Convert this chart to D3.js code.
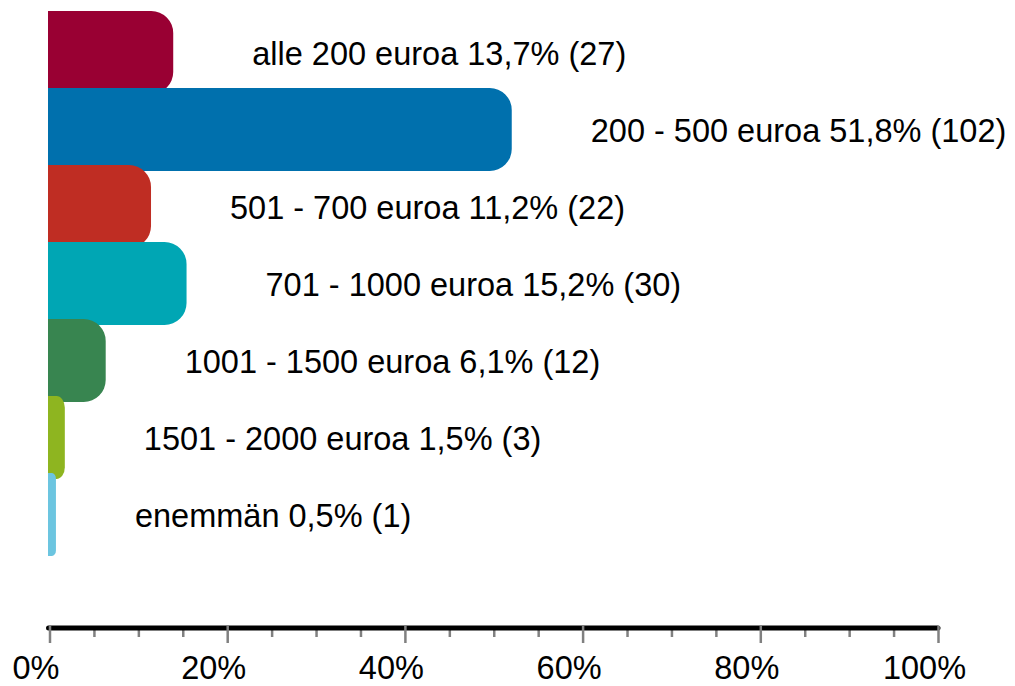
<!DOCTYPE html>
<html lang="fi">
<head>
<meta charset="utf-8" />
<title>Euroa</title>
<style>
  body { margin:0; background:#fff; font-family:"Liberation Sans",Arial,sans-serif; }
  svg  { display:block; }
  .label { font-size:32.5px; fill:#000; }
  .axis text { font-size:32.5px; fill:#000; font-family:"Liberation Sans",Arial,sans-serif; }
</style>
</head>
<body>
<svg width="1015" height="686"></svg>
<script src="https://cdn.jsdelivr.net/npm/d3@7"></script>
<script>
/* ---------- DATA ---------- */
const categories = ["alle 200 euroa", "200 - 500 euroa", "501 - 700 euroa", "701 - 1000 euroa",
                    "1001 - 1500 euroa", "1501 - 2000 euroa", "enemmän"];
const percents   = [13.7, 51.8, 11.2, 15.2, 6.1, 1.5, 0.5];
const counts     = [27, 102, 22, 30, 12, 3, 1];
const colors     = ["#990033", "#0070ad", "#bf2d23", "#00a6b4", "#388550", "#8eb520", "#6cc5e0"];
const majorTicks = [0, 20, 40, 60, 80, 100];
const minorTicks = d3.range(0, 101, 5).filter(v => v % 20 !== 0);

const rows = categories.map((c, i) => ({ cat:c, pct:percents[i], n:counts[i], color:colors[i] }));

/* ---------- SCALES ---------- */
const svg = d3.select("svg");
const x = d3.scaleLinear().domain([0, 100]).range([49.5, 938]);
const y = d3.scaleBand().domain(categories).range([11, 550]).paddingInner(0);
const barH = y.bandwidth() + 6;   // bars overlap the next one a little
const axisY = 628;

const fmt = v => d3.format(".1f")(v).replace(".", ",");

/* bar with square left side and rounded right end */
function barPath(x0, x1, y0, h) {
  const w = x1 - x0;
  const rx = Math.min(22, w / 2);
  const ry = Math.min(22, rx * 1.4);
  return `M${x0},${y0} H${x1 - rx} A${rx},${ry} 0 0 1 ${x1},${y0 + ry}
          V${y0 + h - ry} A${rx},${ry} 0 0 1 ${x1 - rx},${y0 + h} H${x0} Z`;
}

/* ---------- BARS ---------- */
svg.append("g").selectAll("path")
  .data(rows)
  .join("path")
    .attr("fill", d => d.color)
    .attr("d", d => barPath(x(0) - 1.5, x(d.pct) + 2, y(d.cat), barH));

/* ---------- LABELS ---------- */
svg.append("g").selectAll("text")
  .data(rows)
  .join("text")
    .attr("class", "label")
    .attr("x", d => x(d.pct) + 81)
    .attr("y", d => y(d.cat) + barH / 2 + 12)
    .text(d => `${d.cat} ${fmt(d.pct)}% (${d.n})`);

/* ---------- AXIS ---------- */
const minorAxis = svg.append("g")
    .attr("transform", `translate(0,${axisY})`)
    .call(d3.axisBottom(x).tickValues(minorTicks).tickSize(9).tickSizeOuter(0).tickFormat(""));
minorAxis.select(".domain").remove();
minorAxis.selectAll("line").attr("stroke", "#808080").attr("stroke-width", 2.5);

const axis = svg.append("g")
    .attr("class", "axis")
    .attr("transform", `translate(0,${axisY})`)
    .call(d3.axisBottom(x).tickValues(majorTicks).tickSize(15).tickSizeOuter(0)
            .tickFormat(d => d + "%"));
axis.select(".domain")
    .attr("stroke", "#000").attr("stroke-width", 5).attr("stroke-linecap", "round")
    .attr("d", `M${x(0) - 1},0H${x(100)}`);
axis.selectAll(".tick line")
    .attr("stroke", "#808080").attr("stroke-width", 2.5).attr("y1", -2);
axis.selectAll(".tick text")
    .attr("y", 51).attr("dy", 0).attr("dx", -14);
</script>
</body>
</html>
